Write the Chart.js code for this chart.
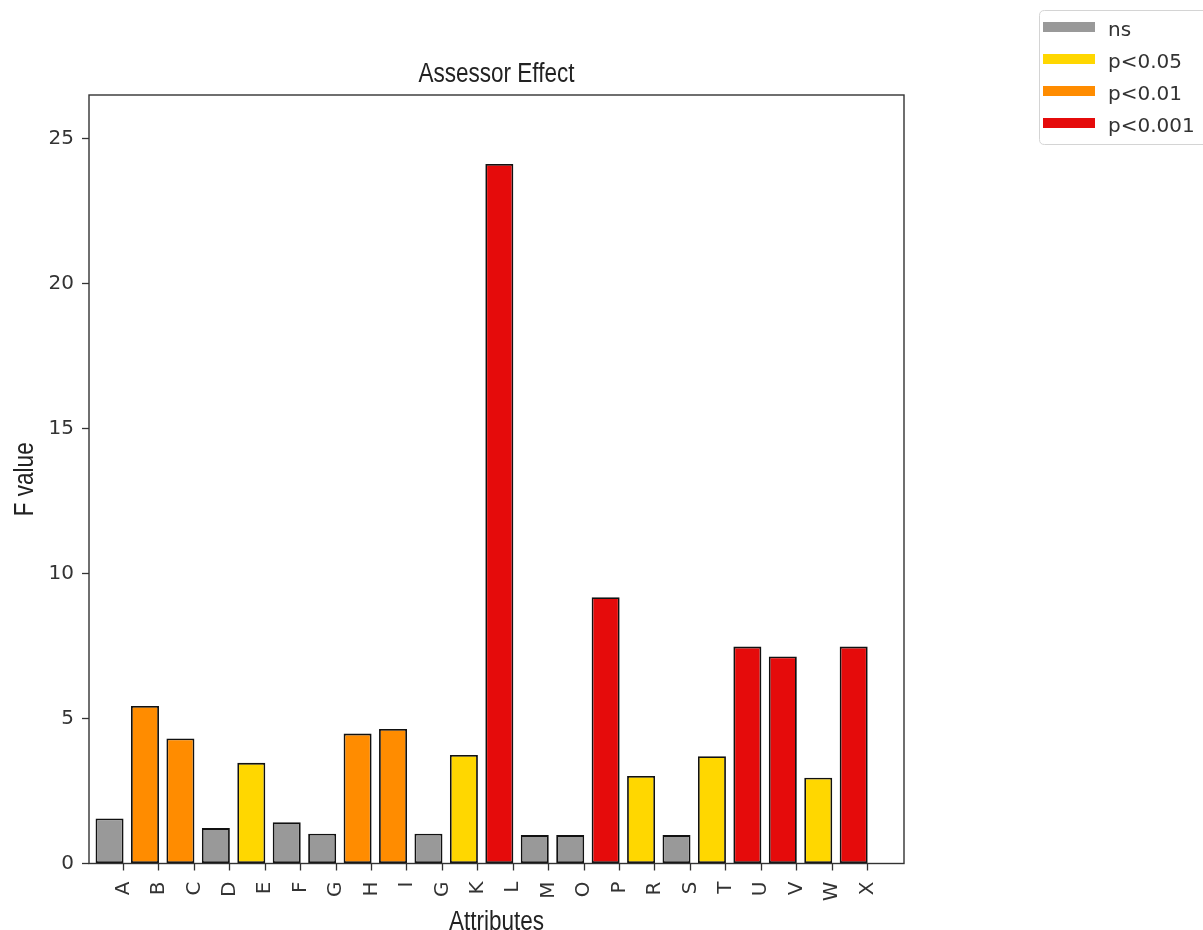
<!DOCTYPE html>
<html>
<head>
<meta charset="utf-8">
<script src="https://cdn.jsdelivr.net/npm/chart.js@4.4.1/dist/chart.umd.min.js"></script>
<style>
  html, body { margin: 0; padding: 0; background: #ffffff; }
  #wrap { position: relative; width: 1203px; height: 930px; }
</style>
</head>
<body>
<div id="wrap"><canvas id="c" width="1203" height="930"></canvas></div>
<script>
// ---- data ----
const categories = ["A","B","C","D","E","F","G","H","I","G","K","L","M","O","P","R","S","T","U","V","W","X"];
const fValues = [1.55, 5.43, 4.31, 1.22, 3.47, 1.42, 1.03, 4.48, 4.64, 1.03, 3.74, 24.12, 0.98, 0.98, 9.18, 3.02, 0.98, 3.70, 7.48, 7.14, 2.96, 7.48];
const significance = ["ns","p<0.01","p<0.01","ns","p<0.05","ns","ns","p<0.01","p<0.01","ns","p<0.05","p<0.001","ns","ns","p<0.001","p<0.05","ns","p<0.05","p<0.001","p<0.001","p<0.05","p<0.001"];
const legendLabels = ["ns","p<0.05","p<0.01","p<0.001"];
const yTicks = [0, 5, 10, 15, 20, 25];
const chartTitle = "Assessor Effect";
const xTitle = "Attributes";
const yTitle = "F value";

// ---- styles ----
const levelColors = { "ns": "#999999", "p<0.05": "#FFD700", "p<0.01": "#FF8C00", "p<0.001": "#E50B0B" };
const sans = "'Liberation Sans', Arial, sans-serif";
const dejavu = "'DejaVu Sans', sans-serif";
const axisColor = "#333333";
const condense = 0.834;

const barData = fValues.map((v, i) => ({ x: i, y: v }));

function condensedText(ctx, text, x, y, rot) {
  ctx.save();
  ctx.translate(x, y);
  ctx.rotate(rot);
  ctx.scale(condense, 1);
  ctx.fillText(text, 0, 0);
  ctx.restore();
}

const framePlugin = {
  id: 'frameAndExtras',
  afterDatasetsDraw(chart) {
    const { ctx, chartArea: a } = chart;
    ctx.save();
    ctx.strokeStyle = axisColor;
    ctx.lineWidth = 1.4;
    ctx.strokeRect(a.left, a.top, a.right - a.left, a.bottom - a.top);
    ctx.restore();
  },
  afterDraw(chart) {
    const { ctx, chartArea: a } = chart;
    ctx.save();
    // title and axis titles (condensed sans)
    ctx.fillStyle = "#222222";
    ctx.font = "27px " + sans;
    ctx.textAlign = "center";
    ctx.textBaseline = "alphabetic";
    const cx = (a.left + a.right) / 2;
    condensedText(ctx, chartTitle, cx, 82, 0);
    condensedText(ctx, xTitle, cx, 929.5, 0);
    condensedText(ctx, yTitle, 33.3, (a.top + a.bottom) / 2, -Math.PI / 2);

    // legend box
    const bx = 1039.5, by = 10.5, bw = 200, bh = 134, r = 5;
    ctx.beginPath();
    ctx.moveTo(bx + r, by);
    ctx.lineTo(bx + bw - r, by);
    ctx.quadraticCurveTo(bx + bw, by, bx + bw, by + r);
    ctx.lineTo(bx + bw, by + bh - r);
    ctx.quadraticCurveTo(bx + bw, by + bh, bx + bw - r, by + bh);
    ctx.lineTo(bx + r, by + bh);
    ctx.quadraticCurveTo(bx, by + bh, bx, by + bh - r);
    ctx.lineTo(bx, by + r);
    ctx.quadraticCurveTo(bx, by, bx + r, by);
    ctx.closePath();
    ctx.fillStyle = "rgba(255,255,255,0.8)";
    ctx.fill();
    ctx.strokeStyle = "#d4d4d4";
    ctx.lineWidth = 1;
    ctx.stroke();

    ctx.font = "20px " + dejavu;
    ctx.textAlign = "left";
    ctx.textBaseline = "alphabetic";
    legendLabels.forEach((lab, i) => {
      const y = 27 + 32 * i;
      ctx.strokeStyle = levelColors[lab];
      ctx.lineWidth = 10;
      ctx.lineCap = "butt";
      ctx.beginPath();
      ctx.moveTo(1043, y);
      ctx.lineTo(1095, y);
      ctx.stroke();
      ctx.fillStyle = "#333333";
      ctx.fillText(lab, 1108, y + 8.5);
    });
    ctx.restore();
  }
};

new Chart(document.getElementById('c'), {
  type: 'bar',
  data: {
    datasets: [{
      label: 'F value',
      data: barData,
      backgroundColor: significance.map(s => levelColors[s]),
      borderColor: '#111111',
      borderWidth: 1.8,
      borderSkipped: false,
      categoryPercentage: 0.79,
      barPercentage: 1.0
    }]
  },
  options: {
    responsive: false,
    animation: false,
    events: [],
    layout: { padding: { top: 95, left: 0, right: 299, bottom: 0 } },
    plugins: {
      legend: { display: false },
      title: { display: false },
      tooltip: { enabled: false }
    },
    scales: {
      x: {
        type: 'linear',
        offset: false,
        min: -0.58,
        max: 22.42,
        afterBuildTicks(scale) {
          scale.ticks = categories.map((c, i) => ({ value: i + 0.392 }));
        },
        afterFit(scale) { scale.height = 66.5; },
        border: { display: false },
        grid: { offset: false, drawOnChartArea: false, drawTicks: true, tickLength: 7, color: axisColor, tickWidth: 1.3 },
        ticks: {
          autoSkip: false,
          minRotation: 90,
          maxRotation: 90,
          padding: 11,
          color: axisColor,
          font: { family: dejavu, size: 20 },
          callback: (value, index) => categories[index]
        },
        title: { display: false }
      },
      y: {
        type: 'linear',
        min: 0,
        max: 26.5,
        afterBuildTicks(scale) {
          scale.ticks = yTicks.map(v => ({ value: v }));
        },
        afterFit(scale) { scale.width = 89; },
        border: { display: false },
        grid: { drawOnChartArea: false, drawTicks: true, tickLength: 7, color: axisColor, tickWidth: 1.3 },
        ticks: {
          padding: 8,
          color: axisColor,
          font: { family: dejavu, size: 20 },
          callback: (v) => String(v)
        },
        title: { display: false }
      }
    }
  },
  plugins: [framePlugin]
});
</script>
</body>
</html>
